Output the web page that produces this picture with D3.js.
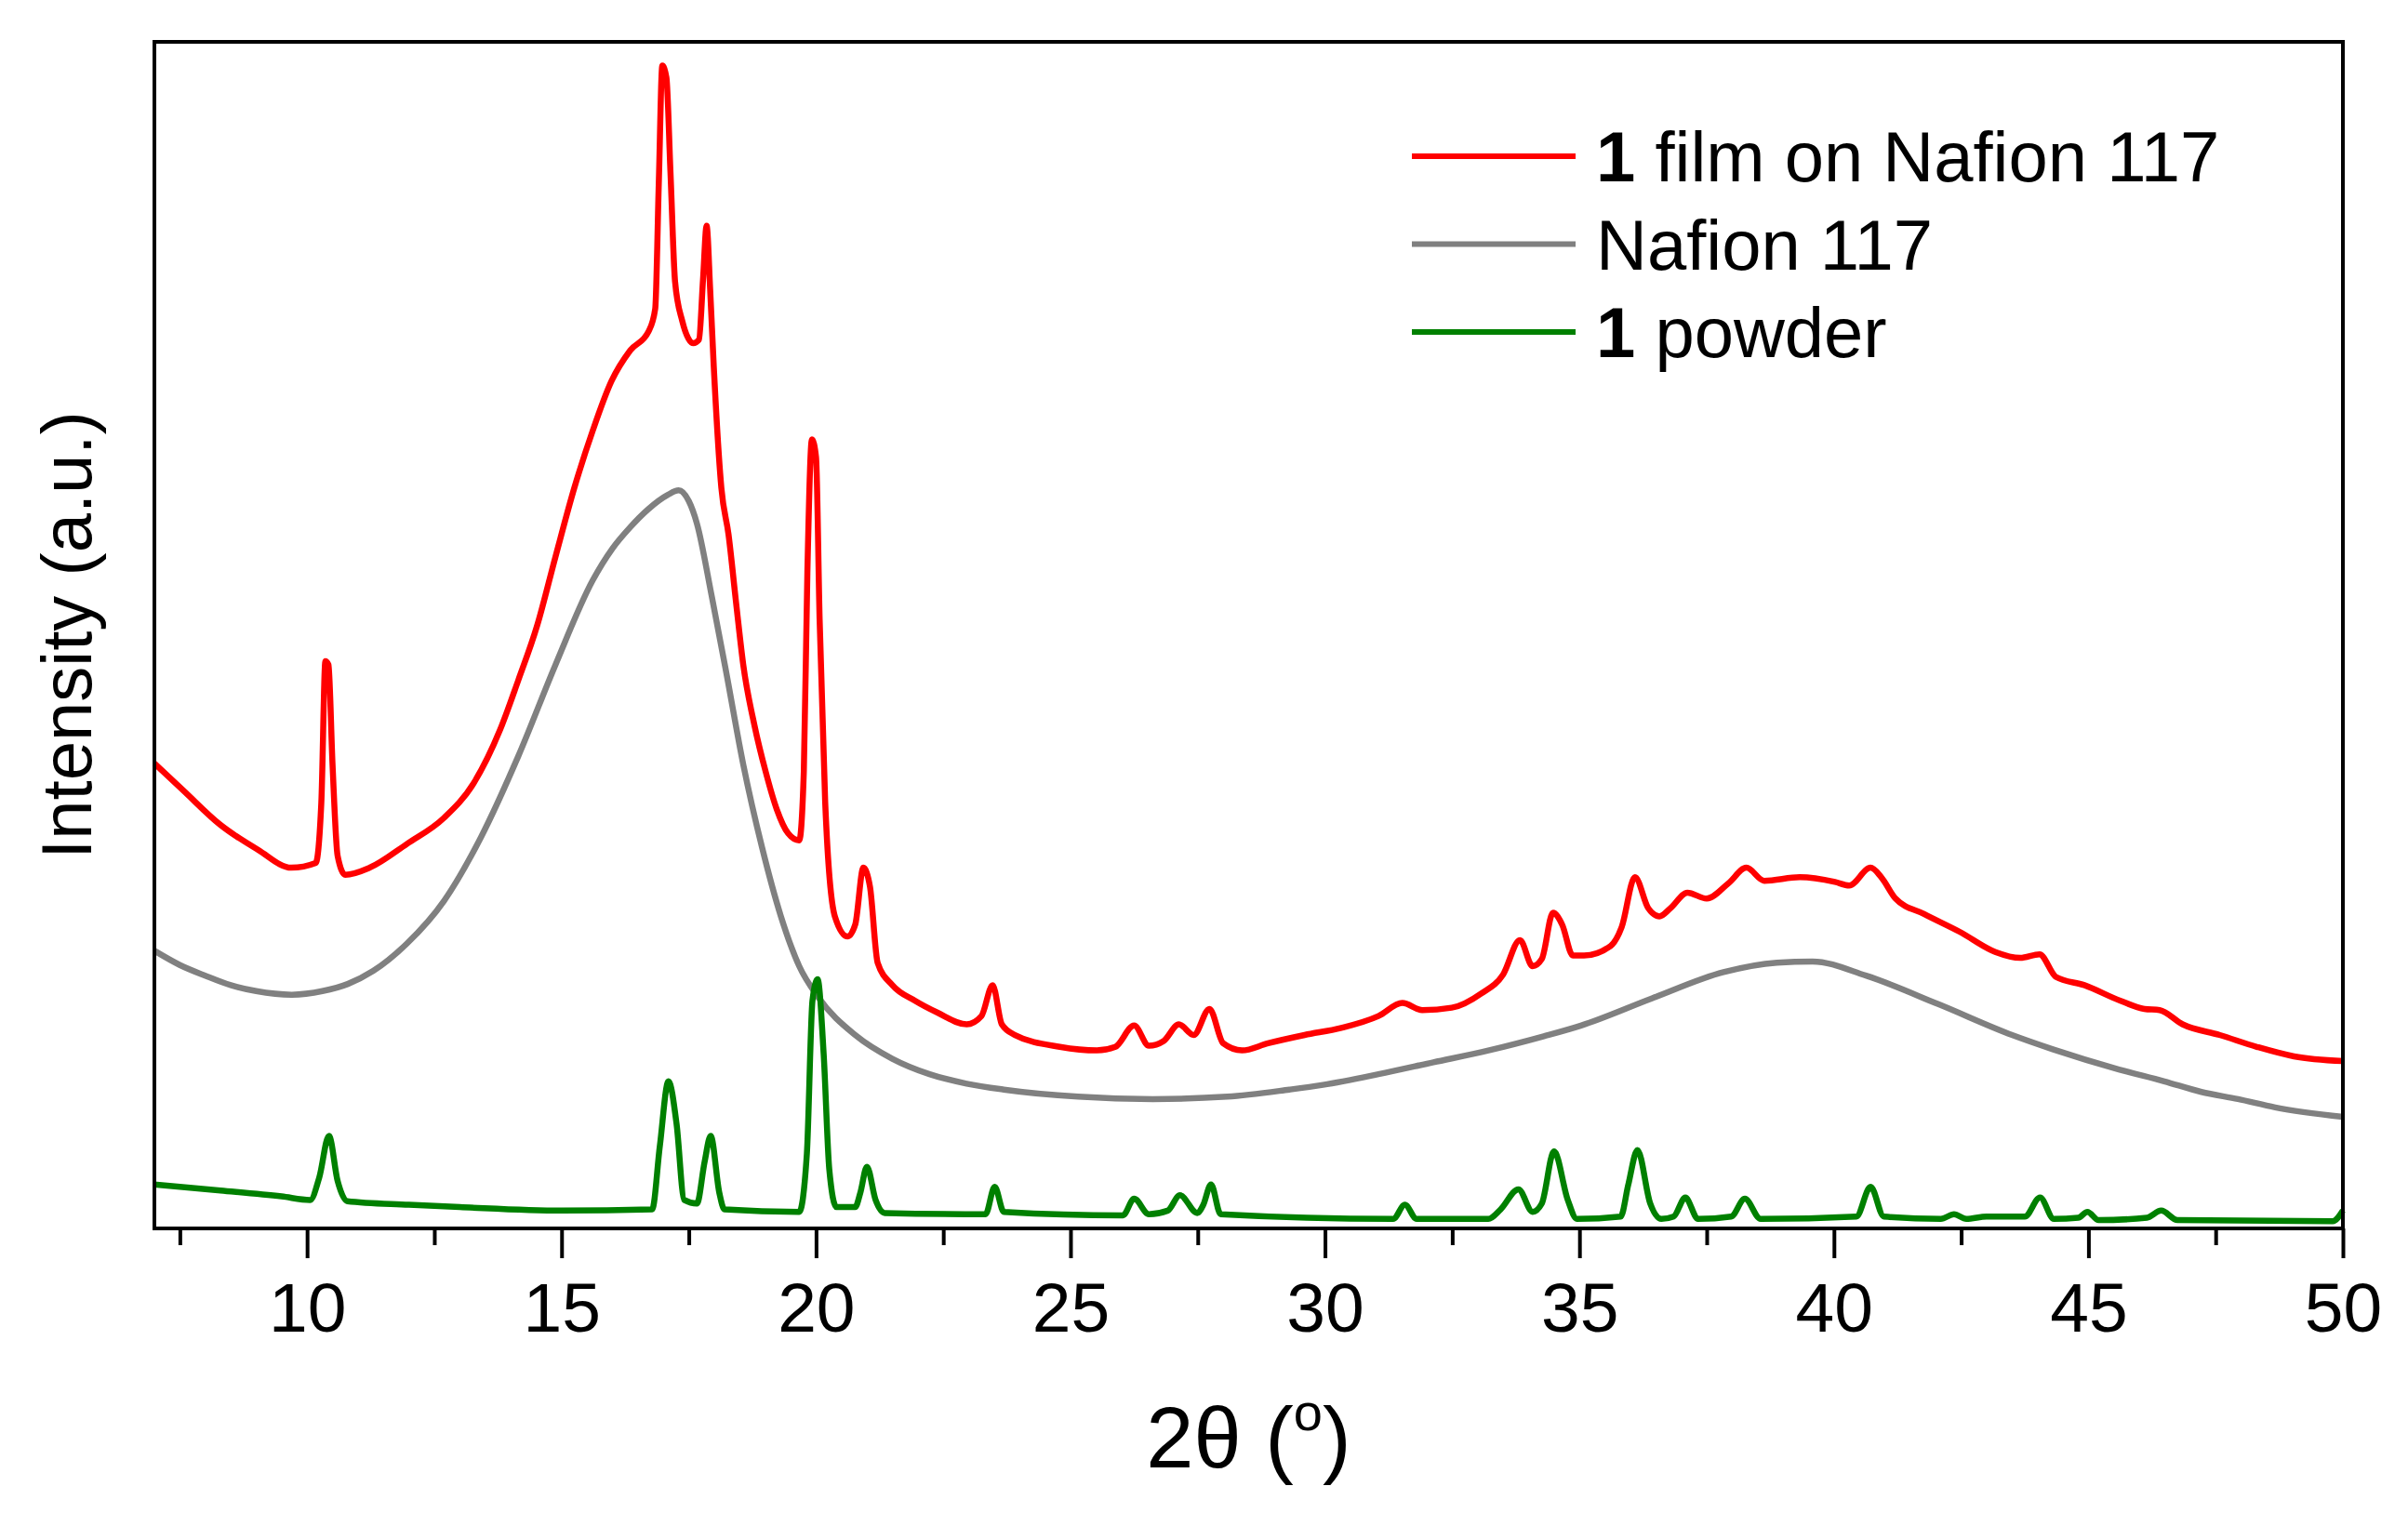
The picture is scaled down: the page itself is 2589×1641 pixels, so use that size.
<!DOCTYPE html>
<html>
<head>
<meta charset="utf-8">
<script src="https://cdn.jsdelivr.net/npm/d3@7"></script>
<style>
  body { margin: 0; background: #fff; }
  text { font-family: "Liberation Sans", Arial, sans-serif; fill: #000; white-space: pre; }
</style>
</head>
<body>
<div id="d3-container"></div>
<script>
/* CONSTANTS AND GLOBALS */
const width = 2589,
  height = 1641,
  margin = { top: 45, bottom: 320, left: 166, right: 70 };

// x axis ticks (degrees 2theta)
const majorTicks = [10, 15, 20, 25, 30, 35, 40, 45, 50];
const minorTicks = [7.5, 12.5, 17.5, 22.5, 27.5, 32.5, 37.5, 42.5, 47.5];

// legend entries: bold compound number + rest of the label
const legendBold = ["1", "", "1"];
const legendText = [" film on Nafion 117", "Nafion 117", " powder"];
const legendColors = ["#ff0000", "#808080", "#008000"];

// patterns: [2theta, intensity (a.u.)]
const filmOnNafion = [
  [7.0, 39.2], [7.57, 36.9], [8.3, 34.0], [9.04, 31.9], [9.69, 30.4], [10.17, 30.8],
  [10.28, 35.9], [10.36, 47.8], [10.42, 47.5], [10.5, 39.1], [10.6, 31.4], [10.75, 29.8],
  [11.23, 30.4], [11.96, 32.4], [12.69, 34.6], [13.27, 37.5], [13.79, 42.0], [14.15, 46.2],
  [14.52, 50.8], [14.88, 56.6], [15.25, 62.4], [15.61, 67.2], [15.98, 71.4], [16.35, 74.0],
  [16.71, 75.6], [16.84, 77.5], [16.91, 88.0], [16.98, 98.0], [17.06, 97.0], [17.14, 89.0],
  [17.23, 79.8], [17.37, 76.5], [17.59, 74.6], [17.7, 74.9], [17.78, 80.0], [17.85, 84.5],
  [17.92, 79.1], [17.99, 72.7], [18.14, 62.4], [18.28, 58.5], [18.43, 52.7], [18.57, 47.5],
  [18.79, 42.4], [19.01, 38.5], [19.23, 35.3], [19.45, 33.3], [19.67, 32.7], [19.76, 38.5],
  [19.83, 55.3], [19.92, 66.5], [20.0, 65.0], [20.07, 51.4], [20.18, 35.9], [20.37, 26.3],
  [20.62, 24.6], [20.77, 25.6], [20.93, 30.4], [21.06, 28.8], [21.21, 22.4], [21.5, 20.5],
  [21.94, 19.2], [22.38, 18.2], [22.96, 17.2], [23.25, 17.9], [23.47, 20.5], [23.65, 17.2],
  [23.91, 16.3], [24.79, 15.3], [25.52, 15.0], [25.88, 15.3], [26.25, 17.1], [26.54, 15.4],
  [26.83, 15.8], [27.13, 17.2], [27.42, 16.3], [27.73, 18.5], [28.0, 15.6], [28.37, 15.0],
  [28.88, 15.6], [29.6, 16.3], [30.32, 16.9], [31.05, 17.9], [31.52, 19.0], [31.91, 18.4],
  [32.49, 18.6], [33.07, 19.8], [33.5, 21.4], [33.83, 24.3], [34.08, 22.1], [34.26, 22.7],
  [34.48, 26.6], [34.66, 25.6], [34.87, 23.0], [35.09, 23.0], [35.61, 23.8], [35.83, 25.4],
  [36.09, 29.6], [36.35, 27.0], [36.57, 26.3], [36.79, 27.0], [37.12, 28.3], [37.5, 27.8],
  [37.93, 29.1], [38.28, 30.4], [38.63, 29.3], [39.33, 29.6], [40.02, 29.2], [40.3, 28.9],
  [40.72, 30.4], [40.93, 29.6], [41.21, 27.8], [41.77, 26.5], [42.47, 25.0], [43.17, 23.3],
  [43.66, 22.8], [44.04, 23.1], [44.36, 21.2], [44.92, 20.5], [45.62, 19.2], [46.1, 18.5],
  [46.4, 18.4], [46.85, 17.2], [47.58, 16.3], [48.31, 15.3], [49.04, 14.5], [50.0, 14.1]
];

const nafion117 = [
  [7.0, 23.4], [7.5, 22.2], [8.0, 21.3], [8.5, 20.5], [9.0, 20.0], [9.7, 19.7], [10.3, 20.0],
  [10.8, 20.6], [11.3, 21.7], [11.96, 24.0], [12.69, 27.6], [13.42, 33.0], [14.15, 39.8],
  [14.88, 47.5], [15.61, 54.6], [16.0, 57.3], [16.35, 59.1], [16.7, 60.6], [17.08, 61.8],
  [17.3, 62.2], [17.5, 61.3], [17.66, 59.4], [17.95, 53.3], [18.23, 47.0], [18.57, 39.1],
  [18.94, 32.1], [19.31, 26.3], [19.67, 22.1], [20.04, 19.5], [20.77, 16.3], [21.5, 14.3],
  [22.23, 13.0], [22.96, 12.2], [23.69, 11.7], [25.15, 11.1], [26.62, 10.9], [28.08, 11.1],
  [29.3, 11.7], [29.96, 12.1], [31.05, 13.0], [32.13, 14.0], [33.21, 15.0], [34.3, 16.2],
  [35.03, 17.1], [36.43, 19.4], [37.83, 21.6], [38.88, 22.4], [39.58, 22.5], [40.63, 21.3],
  [42.05, 18.9], [43.5, 16.3], [44.3, 15.1], [45.6, 13.4], [46.49, 12.4], [47.22, 11.5],
  [47.94, 10.9], [48.67, 10.2], [50.0, 9.4]
];

const powder = [
  [7.0, 3.7], [8.3, 3.2], [9.5, 2.7], [10.06, 2.4], [10.24, 4.3], [10.43, 7.8], [10.6, 4.0],
  [10.79, 2.3], [12.0, 2.0], [13.0, 1.8], [15.0, 1.5], [16.78, 1.6], [16.93, 6.9], [17.1, 12.4],
  [17.26, 8.8], [17.41, 2.4], [17.66, 2.1], [17.81, 5.6], [17.93, 7.8], [18.1, 3.0], [18.2, 1.6],
  [19.67, 1.4], [19.82, 6.3], [19.93, 19.2], [20.03, 21.0], [20.15, 14.7], [20.26, 5.0],
  [20.4, 1.8], [20.77, 1.8], [20.87, 3.0], [21.0, 5.2], [21.17, 2.4], [21.35, 1.3], [23.33, 1.2],
  [23.51, 3.5], [23.69, 1.4], [26.03, 1.1], [26.25, 2.5], [26.54, 1.2], [26.91, 1.5], [27.15, 2.8],
  [27.49, 1.3], [27.61, 2.0], [27.76, 3.7], [27.95, 1.2], [31.34, 0.8], [31.57, 2.0], [31.8, 0.8],
  [33.21, 0.8], [33.45, 1.6], [33.8, 3.3], [34.08, 1.4], [34.26, 2.1], [34.5, 6.5], [34.77, 2.4],
  [34.95, 0.8], [35.81, 1.0], [35.96, 3.7], [36.14, 6.6], [36.39, 2.1], [36.61, 0.8], [36.85, 1.0],
  [37.08, 2.6], [37.33, 0.8], [37.98, 1.0], [38.25, 2.5], [38.56, 0.8], [40.44, 1.0], [40.72, 3.5],
  [40.98, 1.0], [42.1, 0.8], [42.36, 1.2], [42.6, 0.8], [43.0, 1.0], [43.75, 1.0], [44.05, 2.6],
  [44.32, 0.8], [44.8, 0.9], [44.98, 1.4], [45.2, 0.7], [46.15, 0.9], [46.43, 1.5], [46.75, 0.7],
  [49.8, 0.6], [50.0, 1.5]
];

/* SCALES */
const xScale = d3.scaleLinear()
  .domain([7, 50])
  .range([margin.left, width - margin.right]);

const yScale = d3.scaleLinear()
  .domain([0, 100])
  .range([height - margin.bottom, margin.top]);

/* SVG */
const svg = d3.select("#d3-container")
  .append("svg")
  .attr("width", width)
  .attr("height", height);

svg.append("rect")
  .attr("width", width)
  .attr("height", height)
  .attr("fill", "#fff");

const lineFunc = d3.line()
  .x(d => xScale(d[0]))
  .y(d => yScale(d[1]))
  .curve(d3.curveMonotoneX);

// draw order: Nafion underneath, then film, then powder
const series = [
  { data: nafion117, color: legendColors[1] },
  { data: filmOnNafion, color: legendColors[0] },
  { data: powder, color: legendColors[2] }
];

svg.selectAll("path.pattern")
  .data(series)
  .join("path")
  .attr("class", "pattern")
  .attr("fill", "none")
  .attr("stroke", d => d.color)
  .attr("stroke-width", 6.5)
  .attr("stroke-linejoin", "round")
  .attr("d", d => lineFunc(d.data));

// + AXES
const xAxis = svg.append("g")
  .attr("class", "axis x-axis")
  .attr("transform", `translate(0,${yScale(0)})`)
  .call(d3.axisBottom(xScale).tickValues(majorTicks).tickSize(32).tickFormat(d3.format("d")));

// axis() sets its own font; override after the call
xAxis
  .attr("font-family", '"Liberation Sans", Arial, sans-serif')
  .attr("font-size", 75);
xAxis.select(".domain").remove();
xAxis.selectAll(".tick line").attr("stroke", "#000").attr("stroke-width", 4);
xAxis.selectAll(".tick text").attr("fill", "#000").attr("y", 111).attr("dy", 0);

const xMinor = svg.append("g")
  .attr("transform", `translate(0,${yScale(0)})`)
  .call(d3.axisBottom(xScale).tickValues(minorTicks).tickSize(18).tickFormat(""));
xMinor.select(".domain").remove();
xMinor.selectAll(".tick line").attr("stroke", "#000").attr("stroke-width", 4);

// frame
svg.append("rect")
  .attr("x", xScale(7))
  .attr("y", yScale(100))
  .attr("width", xScale(50) - xScale(7))
  .attr("height", yScale(0) - yScale(100))
  .attr("fill", "none")
  .attr("stroke", "#000")
  .attr("stroke-width", 4);

// axis titles
const xTitle = svg.append("text")
  .attr("x", (xScale(7) + xScale(50)) / 2)
  .attr("y", 1578)
  .attr("text-anchor", "middle")
  .attr("font-size", 92);
xTitle.append("tspan").text("2θ (");
xTitle.append("tspan").attr("font-size", 56).attr("dy", -40).text("o");
xTitle.append("tspan").attr("dy", 40).text(")");

svg.append("text")
  .attr("transform", `translate(98,${(yScale(0) + yScale(100)) / 2}) rotate(-90)`)
  .attr("text-anchor", "middle")
  .attr("font-size", 76)
  .text("Intensity (a.u.)");

// + LEGEND
const legend = svg.selectAll("g.legend")
  .data(legendText)
  .join("g")
  .attr("class", "legend")
  .attr("transform", (d, i) => `translate(0,${168 + i * 94.5})`);

legend.append("line")
  .attr("x1", 1518)
  .attr("x2", 1694)
  .attr("stroke", (d, i) => legendColors[i])
  .attr("stroke-width", 6);

const legendLabel = legend.append("text")
  .attr("x", 1716)
  .attr("y", 27)
  .attr("font-size", 76);
legendLabel.append("tspan")
  .attr("font-weight", "bold")
  .text((d, i) => legendBold[i]);
legendLabel.append("tspan")
  .text(d => d);
</script>
</body>
</html>
